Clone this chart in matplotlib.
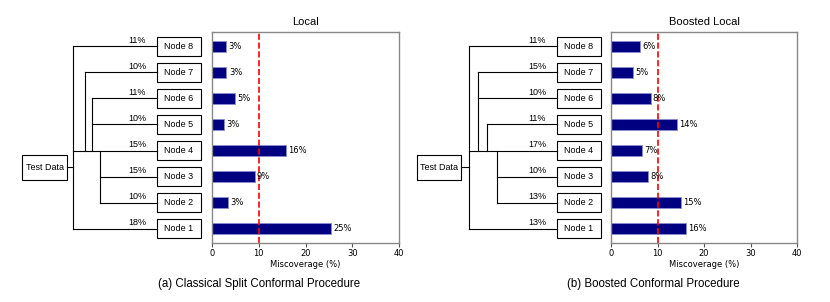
import matplotlib
matplotlib.use('Agg')
import matplotlib.pyplot as plt
from matplotlib.patches import Rectangle

# dados (Node 1 ... Node 8, de baixo para cima)
nodes = ['Node 1', 'Node 2', 'Node 3', 'Node 4', 'Node 5', 'Node 6', 'Node 7', 'Node 8']

local_miscov = [25.4, 3.5, 9.1, 15.8, 2.6, 5.0, 3.1, 3.0]
local_labels = ['25%', '3%', '9%', '16%', '3%', '5%', '3%', '3%']
local_share = ['18%', '10%', '15%', '15%', '10%', '11%', '10%', '11%']
local_level = [0, 3, 3, 0, 2, 2, 1, 0]

boosted_miscov = [16.1, 15.1, 8.0, 6.7, 14.2, 8.5, 4.7, 6.2]
boosted_labels = ['16%', '15%', '8%', '7%', '14%', '8%', '5%', '6%']
boosted_share = ['13%', '13%', '10%', '17%', '11%', '10%', '15%', '11%']
boosted_level = [0, 3, 3, 0, 2, 1, 1, 0]

target = 10
junction = 3      # ramos saem da linha do Node 4
test_y = 2.35

W, H = 830, 302
fig = plt.figure(figsize=(W / 100, H / 100), dpi=100)

SANS = 'Liberation Sans'
ylim = (-0.55, 7.55)
ax_bot, ax_top = 243, 32


def frac(x0, y0, w, h):
    return [x0 / W, 1 - (y0 + h) / H, w / W, h / H]


def tree(px0, px1, box_x, box_w, test_x, test_w, level_x, levels, shares):
    ax = fig.add_axes(frac(px0, ax_top, px1 - px0, ax_bot - ax_top))
    ax.set_xlim(px0, px1)
    ax.set_ylim(*ylim)
    ax.axis('off')
    lw = 0.8
    # caixa Test Data
    th = 0.99
    ax.add_patch(Rectangle((test_x, test_y - th / 2), test_w, th, fill=False, lw=lw))
    ax.text(test_x + test_w / 2, test_y, 'Test Data', ha='center', va='center',
            fontsize=6.5, family=SANS)
    ax.plot([test_x + test_w, level_x[0]], [test_y, test_y], color='black', lw=lw)
    # linhas verticais
    for lv in range(len(level_x)):
        ys = [i for i, l in enumerate(levels) if l == lv]
        if lv > 0:
            ys = ys + [junction]
        ax.plot([level_x[lv], level_x[lv]], [min(ys), max(ys)], color='black', lw=lw)
    # ramos horizontais e caixas
    nh = 0.73
    for i, (name, l, s) in enumerate(zip(nodes, levels, shares)):
        ax.plot([level_x[l], box_x], [i, i], color='black', lw=lw)
        ax.add_patch(Rectangle((box_x, i - nh / 2), box_w, nh, fill=False, lw=lw))
        ax.text(box_x + box_w / 2, i, name, ha='center', va='center',
                fontsize=6.5, family=SANS)
        ax.text(box_x - 19.5, i + 0.07, s, ha='center', va='bottom',
                fontsize=6.5, family=SANS)


def bars(px0, pw, values, labels, title):
    ax = fig.add_axes(frac(px0, ax_top, pw, ax_bot - ax_top))
    y = range(len(values))
    ax.barh(y, values, height=0.4, color='navy', edgecolor='#8c8cd0', linewidth=0.6)
    for i, (v, lab) in enumerate(zip(values, labels)):
        ax.text(v + 0.5, i, lab, va='center', fontsize=6)
    ax.axvline(target, color='red', ls='--', lw=1.2)
    ax.set_xlim(0, 40)
    ax.set_ylim(*ylim)
    ax.set_xticks([0, 10, 20, 30, 40])
    ax.set_yticks([])
    ax.tick_params(axis='x', labelsize=6, length=3, width=0.8, color='#555555', pad=1.5)
    for sp in ax.spines.values():
        sp.set_color('#888888')
        sp.set_linewidth(1.0)
    ax.set_xlabel('Miscoverage (%)', fontsize=6, labelpad=1.5)
    ax.set_title(title, fontsize=8, family=SANS, pad=5)


tree(0, 212, 157, 44, 22, 45, [73, 85, 92.3, 100], local_level, local_share)
bars(212, 187, local_miscov, local_labels, 'Local')

tree(405, 611, 557, 44, 417.3, 43.7, [469.3, 478.3, 487, 497.3], boosted_level, boosted_share)
bars(611, 186, boosted_miscov, boosted_labels, 'Boosted Local')

fig.text(259.5 / W, 1 - 284 / H, '(a) Classical Split Conformal Procedure',
         ha='center', va='center', fontsize=8.3, family=SANS)
fig.text(653.5 / W, 1 - 284 / H, '(b) Boosted Conformal Procedure',
         ha='center', va='center', fontsize=8.3, family=SANS)

fig.savefig('out.png', dpi=100)
